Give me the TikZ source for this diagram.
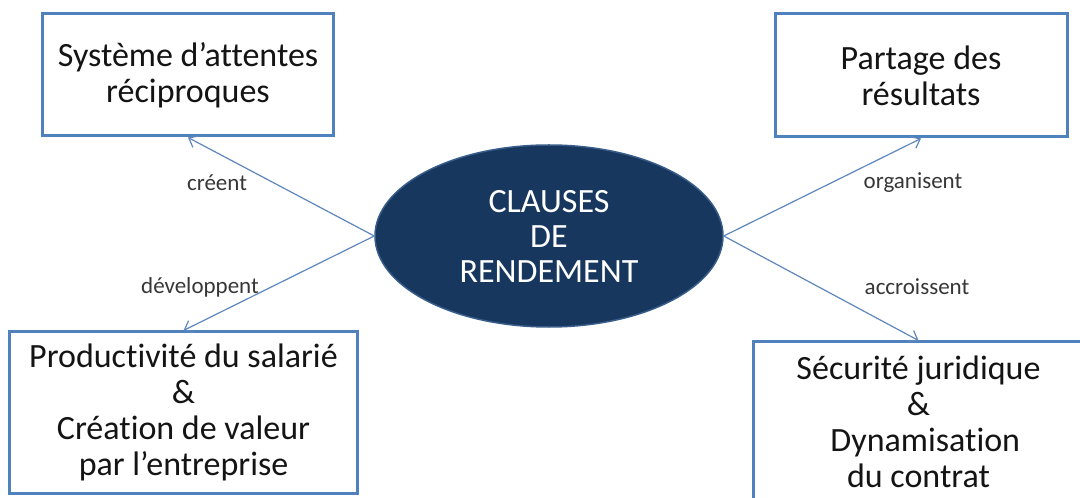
\documentclass[tikz,border=0pt]{standalone}
\usepackage{fontspec}
\setmainfont{Carlito}[Ligatures=NoCommon]
\usetikzlibrary{shapes.geometric,arrows.meta}
\definecolor{boxblue}{RGB}{79,129,189}
\definecolor{navyfill}{RGB}{23,55,94}
\definecolor{navyedge}{RGB}{56,93,138}
\definecolor{linkblue}{RGB}{95,135,190}
\definecolor{txt}{RGB}{20,20,20}
\tikzset{
  box/.style={draw=boxblue, line width=3bp, fill=white, align=center, inner sep=0pt,
    text=txt, font=\fontsize{34bp}{36bp}\selectfont},
  hub/.style={ellipse, draw=navyedge, line width=1.5bp, fill=navyfill, text=white,
    align=center, inner sep=0pt, minimum width=348bp, minimum height=182bp,
    font=\fontsize{34bp}{35bp}\selectfont},
  link/.style={draw=linkblue, line width=1.2bp, -{Straight Barb[length=8bp,width=13bp]}},
  verb/.style={text=txt!85, font=\fontsize{23bp}{26bp}\selectfont, inner sep=0pt}
}
\begin{document}
\begin{tikzpicture}[x=1bp, y=-1bp]
\useasboundingbox (0,0) rectangle (1080,498);
\clip (0,0) rectangle (1080,498);
\fill[white] (0,0) rectangle (1080,498);

\node[hub] (ell) at (549,236) {CLAUSES\\DE\\RENDEMENT};

\node[box, minimum width=290bp, minimum height=122bp] (tl) at (188,75)
  {Système d’attentes\\réciproques};
\node[box, minimum width=292bp, minimum height=123bp] (tr) at (921,75.5)
  {Partage des\\résultats};
\node[box, minimum width=347bp, minimum height=161bp] (bl) at (183.5,412.5)
  {Productivité du salarié\\\&\\Création de valeur\\par l’entreprise};
\node[box, minimum width=331bp, minimum height=160bp] (br) at (918.5,422)
  {Sécurité juridique\\\&\\\hspace*{0.4em}Dynamisation\\du contrat};

\draw[link] (ell.west) -- (tl.south);
\draw[link] (ell.west) -- (bl.north);
\draw[link] (ell.east) -- (tr.south);
\draw[link] (ell.east) -- (br.north);

\node[verb] (v1) at (217,183) {créent};
\node[verb] (v2) at (200,287) {développent};
\node[verb] (v3) at (913,183) {organisent};
\node[verb] (v4) at (917,287) {accroissent};
\end{tikzpicture}
\end{document}
